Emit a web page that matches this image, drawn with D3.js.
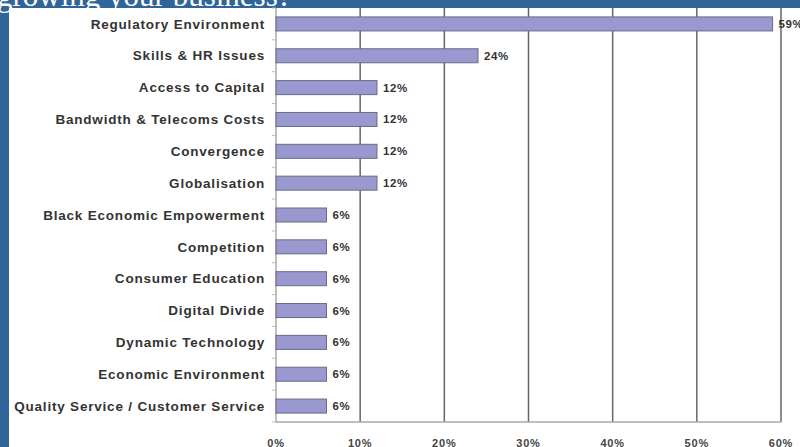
<!DOCTYPE html>
<html>
<head>
<meta charset="utf-8">
<script src="https://cdn.jsdelivr.net/npm/d3@7"></script>
<style>
  body { margin: 0; background: #2f6599; }
  svg { display: block; }
</style>
</head>
<body>
<div id="chart"></div>
<script>
// Chart data
const categories = [
  'Regulatory Environment',
  'Skills & HR Issues',
  'Access to Capital',
  'Bandwidth & Telecoms Costs',
  'Convergence',
  'Globalisation',
  'Black Economic Empowerment',
  'Competition',
  'Consumer Education',
  'Digital Divide',
  'Dynamic Technology',
  'Economic Environment',
  'Quality Service / Customer Service'
];
const values = [59, 24, 12, 12, 12, 12, 6, 6, 6, 6, 6, 6, 6];
const xTicks = [0, 10, 20, 30, 40, 50, 60];
const titleText = 'growing your business?';

function drawChart() {
  const width = 800;
  const height = 447;
  const plot = { left: 276, right: 781, top: 8, bottom: 422 };
  const labelFont = '"Liberation Sans", Arial, sans-serif';

  const svg = d3.select('#chart')
    .append('svg')
    .attr('width', width)
    .attr('height', height);

  // Blue slide background
  svg.append('rect')
    .attr('width', width).attr('height', height)
    .attr('fill', '#2f6599');

  // Title, cut off by the top edge (panel hides the descenders)
  svg.append('text')
    .attr('x', -3).attr('y', 6)
    .attr('font-family', '"Liberation Serif", "Times New Roman", serif')
    .attr('font-size', 31)
    .attr('fill', '#ffffff')
    .text(titleText);

  // White panel
  svg.append('rect')
    .attr('x', 9).attr('y', 8)
    .attr('width', width - 9).attr('height', height - 8)
    .attr('fill', '#ffffff');

  // Scales
  const x = d3.scaleLinear()
    .domain([0, 60])
    .range([plot.left, plot.right]);

  const y = d3.scaleBand()
    .domain(categories)
    .range([plot.top, plot.bottom])
    .paddingInner(0.56)
    .paddingOuter(0.28);

  // Gridlines
  svg.append('g')
    .selectAll('line')
    .data(xTicks.slice(1))
    .join('line')
    .attr('x1', d => x(d)).attr('x2', d => x(d))
    .attr('y1', plot.top).attr('y2', plot.bottom)
    .attr('stroke', '#666')
    .attr('stroke-width', 1.5);

  // Bottom and left axis lines
  svg.append('line')
    .attr('x1', plot.left).attr('x2', plot.right)
    .attr('y1', plot.bottom).attr('y2', plot.bottom)
    .attr('stroke', '#aaa').attr('stroke-width', 1.5);
  svg.append('line')
    .attr('x1', plot.left).attr('x2', plot.left)
    .attr('y1', plot.top).attr('y2', plot.bottom)
    .attr('stroke', '#aaa').attr('stroke-width', 1.5);

  // Small category separator ticks on the left axis
  const step = y.step();
  svg.append('g')
    .selectAll('line')
    .data(d3.range(categories.length + 1))
    .join('line')
    .attr('x1', plot.left - 4).attr('x2', plot.left)
    .attr('y1', i => plot.top + i * step)
    .attr('y2', i => plot.top + i * step)
    .attr('stroke', '#bbb');

  // Bars
  svg.append('g')
    .selectAll('rect')
    .data(values)
    .join('rect')
    .attr('x', x(0))
    .attr('y', (d, i) => y(categories[i]))
    .attr('width', d => x(d) - x(0))
    .attr('height', y.bandwidth())
    .attr('fill', '#9a99cf')
    .attr('stroke', '#6a6a88')
    .attr('stroke-width', 1);

  // Value labels
  svg.append('g')
    .selectAll('text')
    .data(values)
    .join('text')
    .attr('x', d => x(d) + 6)
    .attr('y', (d, i) => y(categories[i]) + y.bandwidth() / 2)
    .attr('dy', '0.35em')
    .attr('font-family', labelFont)
    .attr('font-weight', 'bold')
    .attr('font-size', 11.5)
    .attr('letter-spacing', 0.6)
    .attr('fill', '#333')
    .text(d => d + '%');

  // Category labels
  svg.append('g')
    .selectAll('text')
    .data(categories)
    .join('text')
    .attr('x', 265)
    .attr('y', d => y(d) + y.bandwidth() / 2)
    .attr('dy', '0.35em')
    .attr('text-anchor', 'end')
    .attr('font-family', labelFont)
    .attr('font-weight', 'bold')
    .attr('font-size', 13.5)
    .attr('letter-spacing', 0.8)
    .attr('fill', '#333')
    .text(d => d);

  // X tick labels
  svg.append('g')
    .selectAll('text')
    .data(xTicks)
    .join('text')
    .attr('x', d => x(d))
    .attr('y', 447)
    .attr('text-anchor', 'middle')
    .attr('font-family', labelFont)
    .attr('font-weight', 'bold')
    .attr('font-size', 11)
    .attr('letter-spacing', 0.8)
    .attr('fill', '#444')
    .text(d => d + '%');
}

drawChart();
</script>
</body>
</html>
